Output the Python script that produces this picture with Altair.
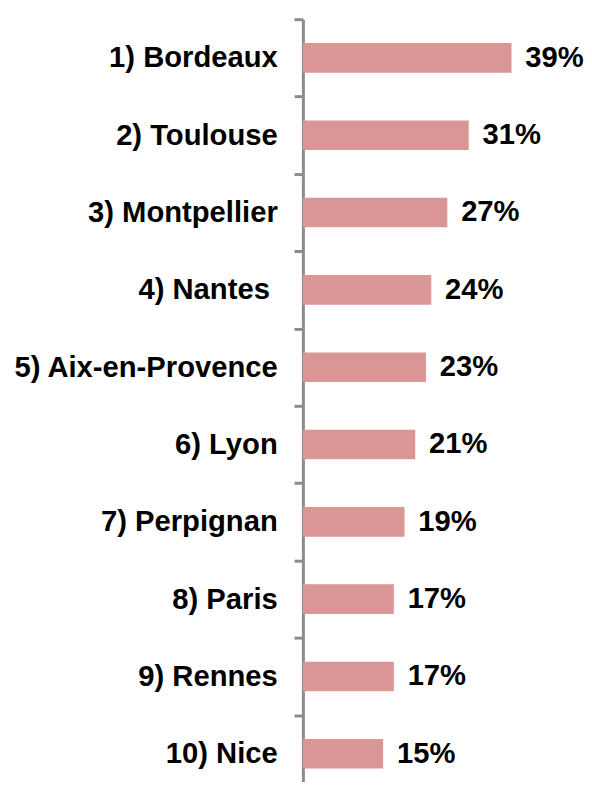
import altair as alt
import pandas as pd

cities = ["1) Bordeaux", "2) Toulouse", "3) Montpellier", "4) Nantes ",
          "5) Aix-en-Provence", "6) Lyon", "7) Perpignan", "8) Paris",
          "9) Rennes", "10) Nice"]
values = [39, 31, 27, 24, 23, 21, 19, 17, 17, 15]
labels = [f"{v}%" for v in values]

df = pd.DataFrame({"city": cities, "value": values, "label": labels})

FONT = "Liberation Sans"
GRAY = "#8c8c8c"
FS = 29.6

y_enc = alt.Y(
    "city:N", sort=None, title=None,
    scale=alt.Scale(range=[0, 784], paddingInner=0, paddingOuter=0),
    axis=alt.Axis(
        tickBand="extent", tickSize=9, tickWidth=3, tickColor=GRAY,
        domainWidth=3, domainColor=GRAY,
        labelPadding={"condition": {"test": "datum.value === '4) Nantes '", "value": 25}, "value": 17},
        labelFont=FONT, labelFontSize=FS, labelFontWeight="bold",
        labelColor="black", labelLimit=400, grid=False,
    ),
)
x_enc = alt.X("value:Q", scale=alt.Scale(domain=[0, 52], nice=False), axis=None)

bars = alt.Chart(df).mark_bar(color="#D99694", height=30).encode(x=x_enc, y=y_enc)
text = alt.Chart(df).mark_text(
    align="left", baseline="middle", dx=14, font=FONT, fontSize=FS,
    fontWeight="bold", color="black"
).encode(x=x_enc, y=y_enc, text="label:N")

chart = (bars + text).properties(
    width=282, height=768,
    autosize=alt.AutoSizeParams(type="none"),
    padding={"top": 6, "left": 299, "right": 3, "bottom": 0},
).configure_view(stroke=None)

chart.save("out.html", embed_options={"renderer": "svg", "actions": False})
